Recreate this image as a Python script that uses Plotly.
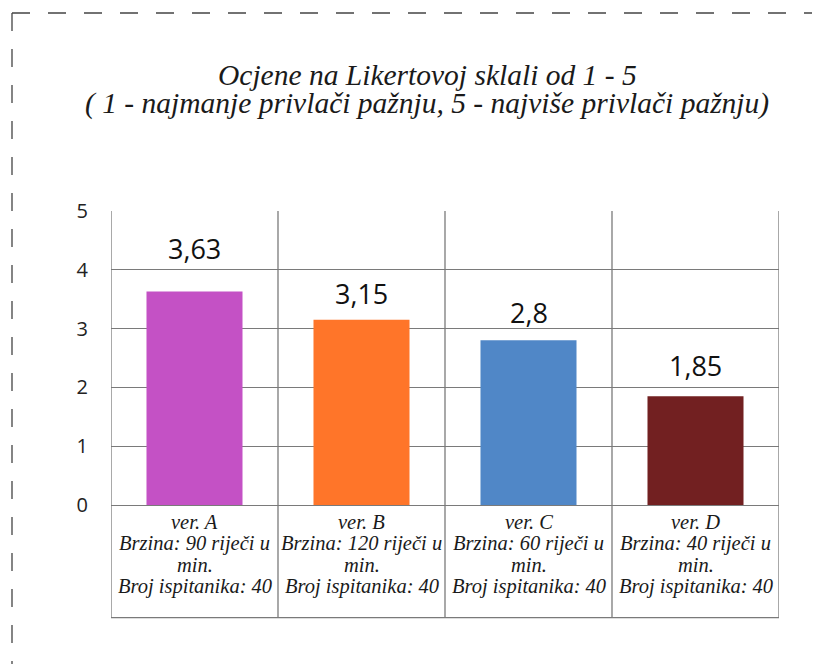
import plotly.graph_objects as go

# Mean Likert scores per text version
versions = ["ver. A", "ver. B", "ver. C", "ver. D"]
scores = [3.63, 3.15, 2.8, 1.85]
score_labels = ["3,63", "3,15", "2,8", "1,85"]
speed_lines = ["Brzina: 90 riječi u", "Brzina: 120 riječi u", "Brzina: 60 riječi u", "Brzina: 40 riječi u"]
speed_tail = ["min.", "min.", "min.", "min."]
participants = ["Broj ispitanika: 40", "Broj ispitanika: 40", "Broj ispitanika: 40", "Broj ispitanika: 40"]
y_ticks = [0, 1, 2, 3, 4, 5]

title_lines = [
    "Ocjene na Likertovoj sklali od 1 - 5",
    "( 1 - najmanje privlači pažnju, 5 - najviše privlači pažnju)",
]

bar_colors = ["#C451C5", "#FF7529", "#5087C7", "#722021"]
label_shift = [23, 6, 7, 10]   # px lift of each value label above its bar

W, H = 825, 664
L, R, T, B = 111, 46, 211, 159
PW, PH = W - L - R, H - T - B

def px_x(px):
    return (px - L) / PW

def px_y(py):
    return (H - B - py) / PH

SERIF = "Liberation Serif, DejaVu Serif, serif"
SANS = "Open Sans, Noto Sans, sans-serif"
GRID = "#7a7a7a"

x_idx = list(range(len(versions)))

fig = go.Figure(
    go.Bar(
        x=x_idx,
        y=scores,
        width=0.575,
        marker=dict(color=bar_colors, line=dict(width=0)),
        hoverinfo="skip",
    )
)

annotations = []
# value labels above bars
for i, (v, lab) in enumerate(zip(scores, score_labels)):
    annotations.append(dict(
        x=i, y=v, xref="x", yref="y", text=lab, showarrow=False,
        yanchor="bottom", yshift=label_shift[i],
        font=dict(family=SANS, size=27, color="#111111"),
    ))

# category description cells under the plot
line_rows = [versions, speed_lines, speed_tail, participants]
row_centers = [522, 543.5, 565, 586.5]
for row, yc in zip(line_rows, row_centers):
    for i, txt in enumerate(row):
        annotations.append(dict(
            x=i, y=px_y(yc), xref="x", yref="paper", text=f"<i>{txt}</i>",
            showarrow=False, yanchor="middle", xanchor="center",
            font=dict(family=SERIF, size=20.5, color="#1a1a1a"),
        ))

# two-line italic title
for txt, yc in zip(title_lines, [75, 104]):
    annotations.append(dict(
        x=px_x(427), y=px_y(yc), xref="paper", yref="paper",
        text=f"<i>{txt}</i>", showarrow=False, xanchor="center", yanchor="middle",
        font=dict(family=SERIF, size=29.5, color="#1a1a1a"),
    ))

shapes = []
table_bottom = px_y(617.7)
# category boundaries running through plot and description cells
for k in range(len(versions) + 1):
    shapes.append(dict(
        type="line", xref="x", yref="paper", x0=k - 0.5, x1=k - 0.5,
        y0=table_bottom, y1=1, line=dict(color=GRID, width=1.3), layer="above",
    ))
shapes.append(dict(
    type="line", xref="x", yref="paper", x0=-0.5, x1=len(versions) - 0.5,
    y0=table_bottom, y1=table_bottom, line=dict(color=GRID, width=1.3),
))
# dashed outer frame
shapes.append(dict(
    type="line", xref="paper", yref="paper", x0=px_x(12), x1=px_x(812),
    y0=px_y(13), y1=px_y(13), line=dict(color="#444444", width=1.3, dash="18px,18px"),
))
shapes.append(dict(
    type="line", xref="paper", yref="paper", x0=px_x(12), x1=px_x(12),
    y0=px_y(13), y1=px_y(680), line=dict(color="#444444", width=1.3, dash="18px,18px"),
))

fig.update_layout(
    width=W, height=H,
    margin=dict(l=L, r=R, t=T, b=B, pad=0),
    paper_bgcolor="white", plot_bgcolor="white",
    showlegend=False,
    annotations=annotations,
    shapes=shapes,
    xaxis=dict(
        range=[-0.5, len(versions) - 0.5], showticklabels=False, showgrid=False,
        zeroline=False, ticks="", fixedrange=True,
    ),
    yaxis=dict(
        range=[0, 5], tickvals=y_ticks, ticktext=[str(t) for t in y_ticks],
        showgrid=True, gridcolor=GRID, gridwidth=1.3,
        zeroline=True, zerolinecolor=GRID, zerolinewidth=1.3,
        ticks="", ticklabelstandoff=22,
        tickfont=dict(family=SANS, size=20, color="#222222"),
        fixedrange=True,
    ),
)

fig.write_html("out.html")
